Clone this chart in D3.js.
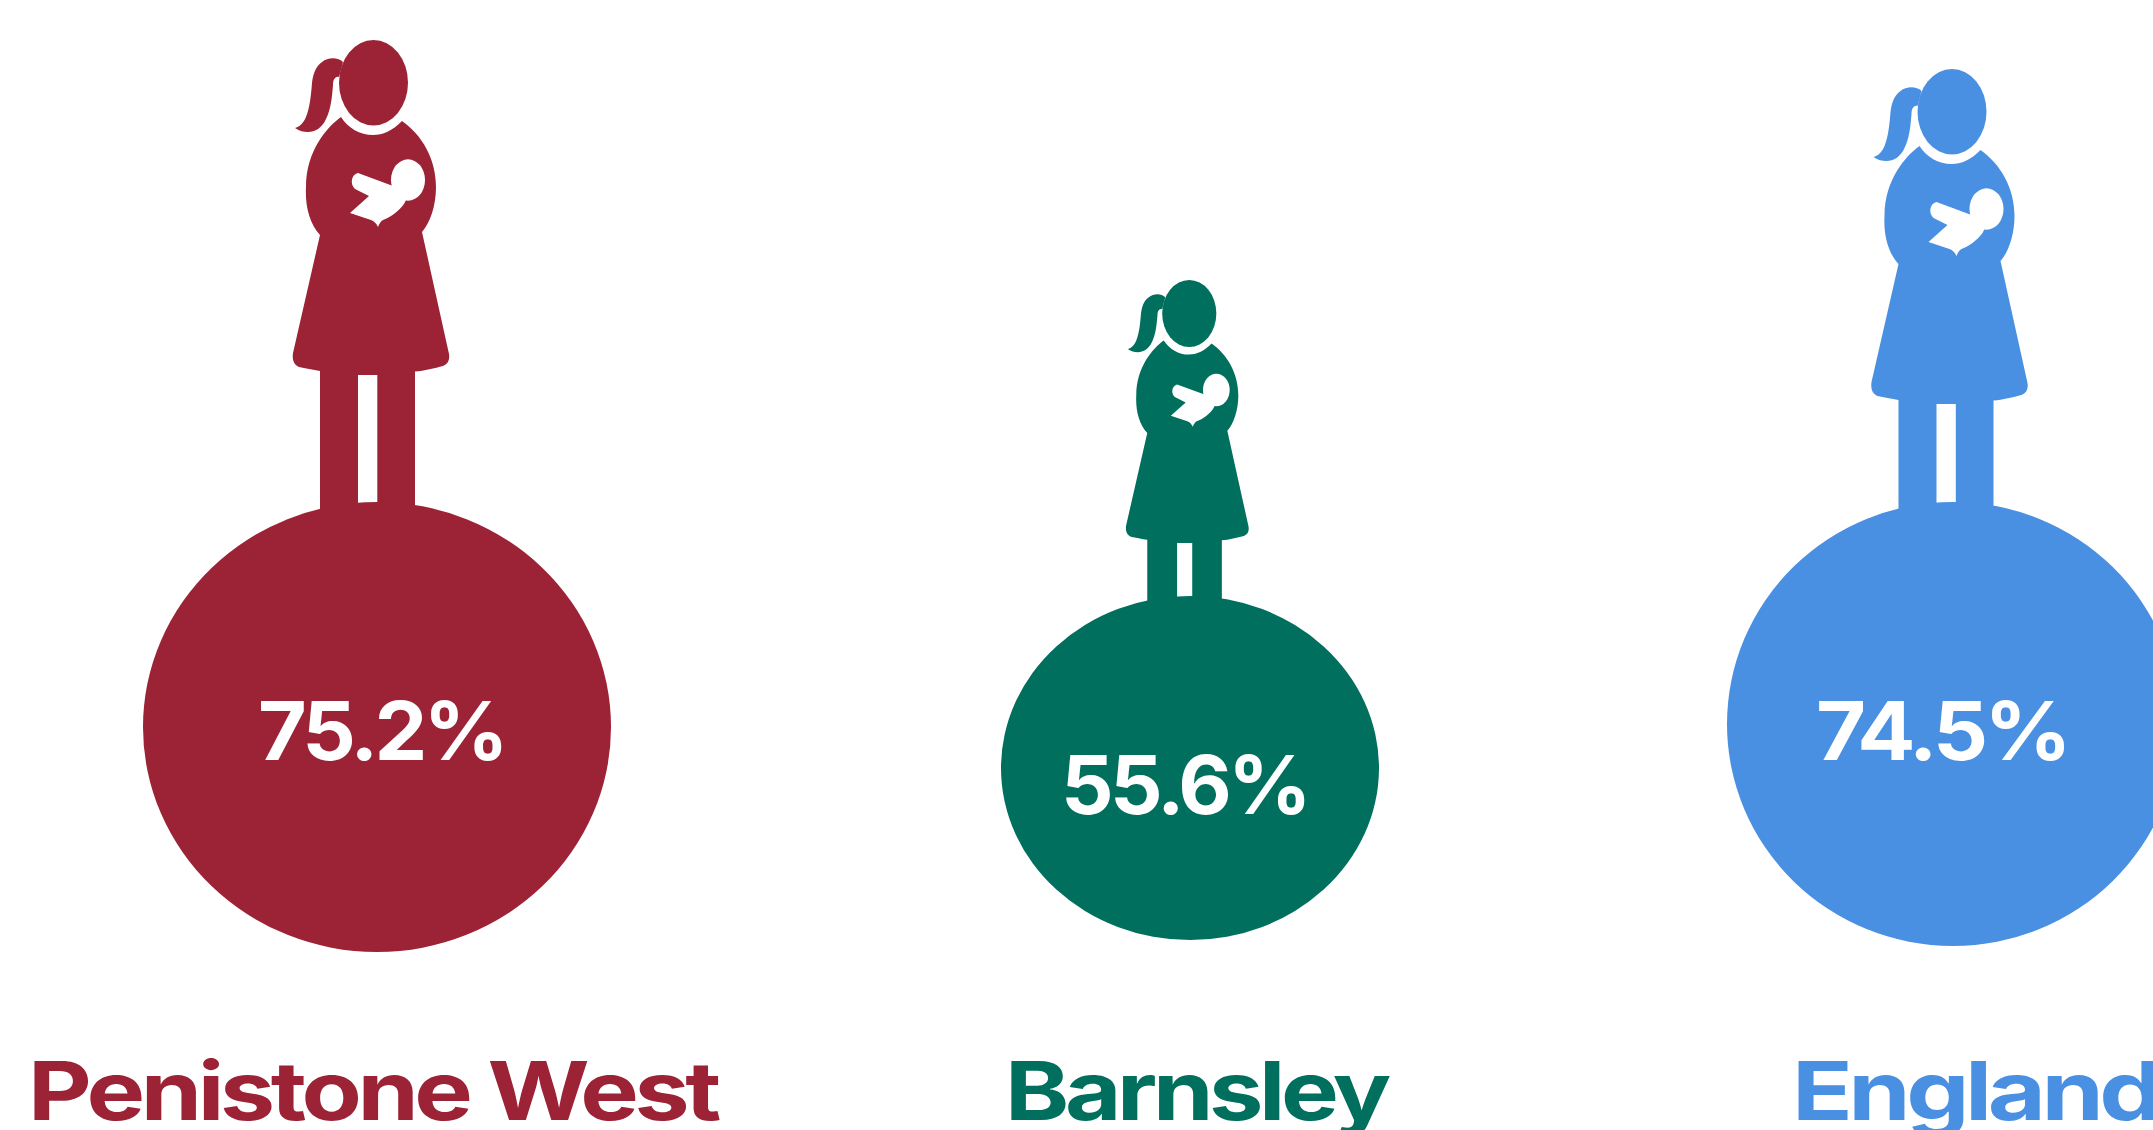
<!DOCTYPE html>
<html>
<head>
<meta charset="utf-8">
<script src="https://cdnjs.cloudflare.com/ajax/libs/d3/7.8.5/d3.min.js"></script>
<style>
  html, body { margin: 0; padding: 0; background: #fff; overflow: hidden; }
  svg { display: block; }
  text { font-family: Inter, "Open Sans", sans-serif; font-weight: 700; letter-spacing: -0.045em; }
</style>
</head>
<body>
<div id="chart"></div>
<script>
// the three areas and their share
var areas = ['Penistone West', 'Barnsley', 'England'];
var values = [75.2, 55.6, 74.5];
var colours = ['#9c2336', '#016f5d', '#4a90e2'];

var width = 2153, height = 1130;

// everything on the page is placed by these scales
var ballX = d3.scaleOrdinal(areas, [377, 1190, 1953]);
var figureX = d3.scaleOrdinal(areas, [377, 1192, 1955.5]);
var ballRx = d3.scaleLinear([55.6, 74.5, 75.2], [189, 226, 234]);
var ballRy = d3.scaleLinear([55.6, 74.5, 75.2], [172, 222, 225]);
var ballCy = d3.scaleLinear([55.6, 74.5, 75.2], [768, 724, 727]);
var figureSize = d3.scaleLinear([55.6, 74.5, 75.2], [0.785, 1, 1]);
var figureTop = d3.scaleLinear([55.6, 74.5, 75.2], [280, 69, 40]);

// percent labels
var pctX = d3.scaleOrdinal(areas, [258, 1061, 1816]);
var pctW = d3.scaleOrdinal(areas, [247, 247, 252]);
var pctY = d3.scaleOrdinal(areas, [760, 814, 760]);

// names along the bottom
var nameX = d3.scaleOrdinal(areas, [28, 1005, 1792]);
var nameW = d3.scaleOrdinal(areas, [689, 382, 366]);

// mother and baby, the origin sits on the hem line between head and legs
var bodyPath = 'M-36,-86 C-50,-76 -71,-52 -71,-16 C-72,2 -68,20 -57,32 ' +
  'L-84,150 C-85,157 -83,162 -78,164 C-72,165 -64,167 -57,168 L-57,500 L38,500 L38,168.5 ' +
  'C47,168 58,165 66,163 C71,161 73,157 72,151 L45,29 C53,20 59,3 59,-16 ' +
  'C59,-44 45,-68 25,-82 C15,-72 6,-68 -4,-68 C-17,-68 -29,-75 -36,-86 Z';
var tailPath = 'M-34,-141 C-39,-146 -49,-146 -55,-141 C-62,-136 -64,-128 -65,-120 ' +
  'C-66,-108 -67,-96 -71,-86 C-74,-79 -78,-76 -82,-75 ' +
  'C-77,-72 -74,-71 -69,-71 C-62,-71 -55,-75 -51,-84 C-46,-94 -45,-106 -44,-118 C-44,-123 -42,-127 -38,-126 Z';
var babyPath = 'M-19,-30 L16,-17 L30,-5 L27,1 C22,8 14,14 6,17 C4,18 2,21 1,24 ' +
  'C-1,20 -3,18 -6,17 L-27,10 L-8,-7 L-20,-13 C-27,-16 -27,-28 -19,-30 Z';

var svg = d3.select('#chart').append('svg')
  .attr('width', width)
  .attr('height', height);

var area = svg.selectAll('g.area')
  .data(areas)
  .enter().append('g')
  .attr('class', 'area');

area.each(function(name, i) {
  var g = d3.select(this);
  var v = values[i];
  var s = figureSize(v);

  var figure = g.append('g')
    .attr('transform', 'translate(' + figureX(name) + ',' + (figureTop(v) + 163 * s) + ') scale(' + s + ')')
    .attr('fill', colours[i]);
  figure.append('path').attr('d', bodyPath);
  figure.append('path').attr('d', tailPath);
  figure.append('ellipse')
    .attr('cx', -3.5).attr('cy', -120.3)
    .attr('rx', 34.5).attr('ry', 42.7);
  figure.append('path').attr('d', babyPath).attr('fill', '#fff');
  figure.append('ellipse')
    .attr('cx', 31).attr('cy', -23)
    .attr('rx', 17).attr('ry', 20.7)
    .attr('fill', '#fff');
  // gap between the legs, the ball covers the end of it
  figure.append('rect')
    .attr('x', -19).attr('y', 172)
    .attr('width', 19.3).attr('height', 328)
    .attr('fill', '#fff');

  g.append('ellipse')
    .attr('cx', ballX(name))
    .attr('cy', ballCy(v))
    .attr('rx', ballRx(v))
    .attr('ry', ballRy(v))
    .attr('fill', colours[i]);

  g.append('text')
    .attr('x', pctX(name))
    .attr('y', pctY(name))
    .attr('font-size', 81)
    .attr('textLength', pctW(name))
    .attr('lengthAdjust', 'spacingAndGlyphs')
    .attr('fill', '#fff')
    .text(v.toFixed(1) + '%');
});

svg.selectAll('text.name')
  .data(areas)
  .enter().append('text')
  .attr('class', 'name')
  .attr('x', function(d) { return nameX(d); })
  .attr('y', 1120)
  .attr('font-size', 81)
  .attr('textLength', function(d) { return nameW(d); })
  .attr('lengthAdjust', 'spacingAndGlyphs')
  .attr('fill', function(d, i) { return colours[i]; })
  .text(function(d) { return d; });
</script>
</body>
</html>
